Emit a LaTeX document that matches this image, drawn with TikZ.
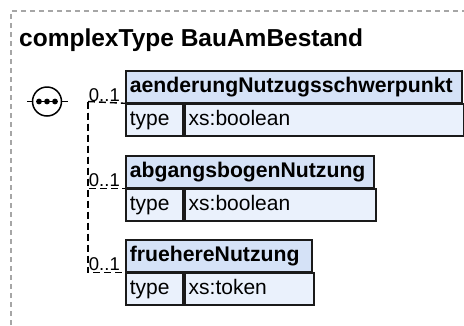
\documentclass[tikz,border=0pt]{standalone}
\usepackage{fontspec}
\setmainfont{Liberation Sans}
\usetikzlibrary{positioning, shadows}
\definecolor{hdrblue}{HTML}{D5E2F7}
\definecolor{rowblue}{HTML}{EAF1FC}
\definecolor{boxline}{HTML}{1A1A1A}
\definecolor{framegray}{HTML}{A6A6A6}
\tikzset{
  cell/.style={draw=boxline, line width=1.8pt, anchor=north west, minimum height=31.5pt,
    inner xsep=4pt, inner ysep=0pt, align=left, text height=15.5pt, text depth=4.5pt,
    drop shadow={shadow xshift=1.2pt, shadow yshift=-1.2pt, fill=black!25}},
  hdr/.style={cell, fill=hdrblue, font=\bfseries\fontsize{21.2}{22}\selectfont},
  row/.style={cell, fill=rowblue, font=\fontsize{21}{21}\selectfont},
  card/.style={font=\fontsize{18.5}{18.5}\selectfont, inner sep=1pt, anchor=south east},
  opt/.style={line width=1.4pt, dash pattern=on 7pt off 4pt},
}
\begin{document}
\begin{tikzpicture}[x=1pt, y=-1pt]
    \useasboundingbox (0,0) rectangle (464,325);

    % Rahmen und Titel
    \draw[framegray, line width=1.1pt, dash pattern=on 5pt off 4pt] (11,325) -- (11,11) -- (464,11);
    \node[anchor=base west, inner sep=0pt, font=\bfseries\fontsize{24.5}{24.5}\selectfont] (ttl) at (19,46) {complexType BauAmBestand};

    % Elemente
    \node[hdr, text width=328pt] (aend) at (125,70) {aenderungNutzugsschwerpunkt};
    \node[row, text width=49pt] (aendT) at (aend.south west) {type};
    \node[row, text width=271pt] (aendV) at (aendT.north east) {xs:boolean};

    \node[hdr, text width=240pt] (abg) at (125,155) {abgangsbogenNutzung};
    \node[row, text width=49pt] (abgT) at (abg.south west) {type};
    \node[row, text width=183pt] (abgV) at (abgT.north east) {xs:boolean};

    \node[hdr, text width=178pt] (frueh) at (125,239) {fruehereNutzung};
    \node[row, text width=49pt] (fruehT) at (frueh.south west) {type};
    \node[row, text width=121pt] (fruehV) at (fruehT.north east) {xs:token};

    % Sequenz
    \node[circle, draw=black, fill=white, line width=1.5pt, minimum size=29pt, inner sep=0pt] (seq) at (47,101.5) {};
    \draw[line width=1.5pt] ([xshift=-9pt]seq.center) -- ([xshift=9pt]seq.center);
    \foreach \dx in {-8,0,8}
        \fill ([xshift=\dx pt]seq.center) circle (2.9pt);
    \coordinate (in) at (27,101.5);
    \coordinate (out) at (68,101.5);
    \coordinate (fork) at (88,101.5);
    \draw[line width=1.4pt] (in) -- (seq.west);
    \draw[line width=1.4pt] (seq.east) -- (out);

    % Verbindungen
    \draw[opt] (fork) -- (aend.south west);
    \draw[opt] (fork) |- (abg.south west);
    \draw[opt] (fork) |- (frueh.south west);

    % Kardinalitaeten
    \node[card] (aendC) at ([xshift=-4pt]aend.south west) {0..1};
    \node[card] (abgC) at ([xshift=-4pt]abg.south west) {0..1};
    \node[card] (fruehC) at ([xshift=-4pt]frueh.south west) {0..1};
\end{tikzpicture}
\end{document}
